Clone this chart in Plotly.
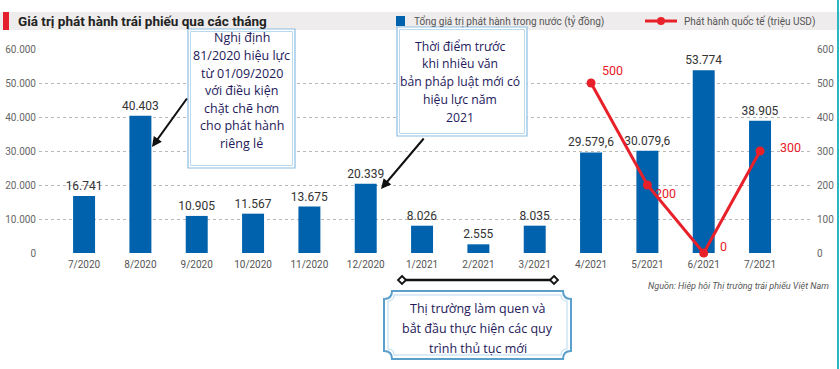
import plotly.graph_objects as go

# ---------------- data ----------------
months = ["7/2020", "8/2020", "9/2020", "10/2020", "11/2020", "12/2020",
          "1/2021", "2/2021", "3/2021", "4/2021", "5/2021", "6/2021", "7/2021"]
domestic = [16741, 40403, 10905, 11567, 13675, 20339,
            8026, 2555, 8035, 29579.6, 30079.6, 53774, 38905]
domestic_labels = ["16.741", "40.403", "10.905", "11.567", "13.675", "20.339",
                   "8.026", "2.555", "8.035", "29.579,6", "30.079,6", "53.774", "38.905"]
intl_months = ["4/2021", "5/2021", "6/2021", "7/2021"]
intl_values = [500, 200, 0, 300]
left_ticks = [0, 10000, 20000, 30000, 40000, 50000, 60000]
left_tick_text = ["0", "10.000", "20.000", "30.000", "40.000", "50.000", "60.000"]
right_ticks = [0, 100, 200, 300, 400, 500, 600]

# label offsets (pixels) for the red line labels
intl_label_shift = [(21, 13), (18, -8), (20, 7), (30, 4)]

W, H = 840, 369
PL, PR, PT, PB = 39, 813, 49, 253  # plot area in pixels


def px(x, y):
    return (x - PL) / (PR - PL), (PB - y) / (PB - PT)


BLUE = "#0062ad"
RED = "#e8202a"
TXT = "#24195a"

fig = go.Figure()
fig.add_trace(go.Bar(
    x=months, y=domestic, text=domestic_labels, textposition="outside",
    textfont=dict(family="Roboto", size=12, color="#333333"),
    constraintext="none",
    marker=dict(color=BLUE, line=dict(width=0)), width=0.39,
    cliponaxis=False, showlegend=False, hoverinfo="x+y",
))
fig.add_trace(go.Scatter(
    x=intl_months, y=intl_values, yaxis="y2", mode="lines+markers",
    line=dict(color=RED, width=3), marker=dict(color=RED, size=9),
    cliponaxis=False, showlegend=False,
))

grid = dict(showgrid=True, gridcolor="#b8b8b8", griddash="dot", gridwidth=1)
fig.update_layout(
    width=W, height=H,
    margin=dict(l=PL, r=W - PR, t=PT, b=H - PB, autoexpand=False),
    paper_bgcolor="white", plot_bgcolor="white",
    font=dict(family="Roboto", color="#555555"),
    xaxis=dict(type="category", range=[-0.8, 12.94], showgrid=False, automargin=False,
               tickfont=dict(family="Roboto", size=10, color="#555555"),
               ticks="", ticklabelstandoff=4, showline=False, zeroline=False),
    yaxis=dict(range=[0, 60000], tickvals=left_ticks, ticktext=left_tick_text, automargin=False,
               tickfont=dict(family="Roboto", size=10, color="#666666"),
               zeroline=False, showline=False, ticklabelstandoff=2, **grid),
    yaxis2=dict(range=[0, 600], tickvals=right_ticks, overlaying="y", side="right", automargin=False,
                tickfont=dict(family="Roboto", size=10, color="#666666"),
                showgrid=False, zeroline=False, showline=False, ticklabelstandoff=3),
)

shapes = []
annotations = []

# red line value labels
for m, v, (dx, dy) in zip(intl_months, intl_values, intl_label_shift):
    annotations.append(dict(x=m, y=v, xref="x", yref="y2", text=str(v), showarrow=False,
                            xshift=dx, yshift=dy, xanchor="center", yanchor="middle",
                            font=dict(family="Roboto", size=12.5, color=RED)))

# title band
bx0, by0 = px(0, 30)
bx1, by1 = px(840, 12)
shapes.append(dict(type="rect", xref="paper", yref="paper", x0=bx0, x1=bx1, y0=by0, y1=by1,
                   fillcolor="#eeecec", line=dict(width=0), layer="below"))
rx0, ry0 = px(3, 30)
rx1, ry1 = px(9, 12)
shapes.append(dict(type="rect", xref="paper", yref="paper", x0=rx0, x1=rx1, y0=ry0, y1=ry1,
                   fillcolor="#e3202b", line=dict(width=0)))
tx, ty = px(16, 21)
annotations.append(dict(xref="paper", yref="paper", x=tx, y=ty, xanchor="left", yanchor="middle",
                        text="<b>Giá trị phát hành trái phiếu qua các tháng</b>", showarrow=False,
                        font=dict(family="Roboto", size=13.5, color="#222222")))

# legend
lx0, ly0 = px(396, 26)
lx1, ly1 = px(405, 16)
shapes.append(dict(type="rect", xref="paper", yref="paper", x0=lx0, x1=lx1, y0=ly0, y1=ly1,
                   fillcolor=BLUE, line=dict(width=0)))
tx, ty = px(412, 21)
annotations.append(dict(xref="paper", yref="paper", x=tx, y=ty, xanchor="left", yanchor="middle",
                        text="Tổng giá trị phát hành trong nước (tỷ đồng)", showarrow=False,
                        font=dict(family="Roboto", size=10, color="#555555")))
la, lb = px(645, 21)
lc, ld = px(677, 21)
shapes.append(dict(type="line", xref="paper", yref="paper", x0=la, x1=lc, y0=lb, y1=ld,
                   line=dict(color=RED, width=3)))
ca, cb = px(657, 25)
cc, cd = px(665, 17)
shapes.append(dict(type="circle", xref="paper", yref="paper", x0=ca, x1=cc, y0=cb, y1=cd,
                   fillcolor=RED, line=dict(width=0)))
tx, ty = px(682, 21)
annotations.append(dict(xref="paper", yref="paper", x=tx, y=ty, xanchor="left", yanchor="middle",
                        text="Phát hành quốc tế (triệu USD)", showarrow=False,
                        font=dict(family="Roboto", size=10, color="#555555")))

# right teal border
ta, tb = px(838, 369)
tc, td = px(838, 0)
shapes.append(dict(type="line", xref="paper", yref="paper", x0=ta, x1=tc, y0=tb, y1=td,
                   line=dict(color="#2bb6c4", width=2)))


def double_box(xa, ya, xb, yb):
    for off, col, w in [(0, "#8dbfe2", 1.2), (2.5, "#b9d9ef", 1)]:
        p0 = px(xa + off, yb - off)
        p1 = px(xb - off, ya + off)
        shapes.append(dict(type="rect", xref="paper", yref="paper",
                           x0=p0[0], x1=p1[0], y0=p0[1], y1=p1[1],
                           fillcolor="white" if off == 0 else "rgba(0,0,0,0)",
                           line=dict(color=col, width=w)))


def text_lines(lines, xc, y_first, step, size):
    for i, t in enumerate(lines):
        cx, cy = px(xc, y_first + i * step)
        annotations.append(dict(xref="paper", yref="paper", x=cx, y=cy, xanchor="center",
                                yanchor="middle", text=t, showarrow=False,
                                font=dict(family="Open Sans", size=size, color=TXT)))


# box 1
double_box(188, 29, 295, 168)
text_lines(["Nghị định", "81/2020 hiệu lực", "từ 01/09/2020", "với điều kiện",
            "chặt chẽ hơn", "cho phát hành", "riêng lẻ"], 241.5, 38, 17.5, 12.5)
# box 2
double_box(397, 27, 527, 136)
text_lines(["Thời điểm trước", "khi nhiều văn", "bản pháp luật mới có",
            "hiệu lực năm", "2021"], 460, 46, 17.8, 12.2)

# arrows
for (hx, hy, sx, sy) in [(152, 147, 188, 97), (381, 189, 425, 137)]:
    ax_, ay_ = px(hx, hy)
    annotations.append(dict(xref="paper", yref="paper", x=ax_, y=ay_, ax=sx - hx, ay=sy - hy,
                            text="", showarrow=True, arrowhead=2, arrowsize=1, arrowwidth=2,
                            arrowcolor="#111111"))

# bracket line with diamond ends
ba, bb = px(402, 280)
bc, bd = px(554, 280)
shapes.append(dict(type="line", xref="paper", yref="paper", x0=ba, x1=bc, y0=bb, y1=bd,
                   line=dict(color="#111111", width=2.5)))
for dx in (402, 554):
    d = 4
    pts = [px(dx, 280 - d), px(dx + d, 280), px(dx, 280 + d), px(dx - d, 280)]
    path = "M " + " L ".join(f"{p[0]},{p[1]}" for p in pts) + " Z"
    shapes.append(dict(type="path", xref="paper", yref="paper", path=path,
                       fillcolor="white", line=dict(color="#111111", width=1.8)))


# scalloped box 3
def scallop(xa, ya, xb, yb, r):
    def P(x, y):
        p = px(x, y)
        return f"{p[0]},{p[1]}"
    s = "M " + P(xa + r, ya)
    s += " L " + P(xb - r, ya)
    s += " Q " + P(xb - r, ya + r) + " " + P(xb, ya + r)
    s += " L " + P(xb, yb - r)
    s += " Q " + P(xb - r, yb - r) + " " + P(xb - r, yb)
    s += " L " + P(xa + r, yb)
    s += " Q " + P(xa + r, yb - r) + " " + P(xa, yb - r)
    s += " L " + P(xa, ya + r)
    s += " Q " + P(xa + r, ya + r) + " " + P(xa + r, ya)
    s += " Z"
    return s


shapes.append(dict(type="path", xref="paper", yref="paper", path=scallop(384, 291, 571, 359, 8),
                   fillcolor="white", line=dict(color="#5b9fcc", width=2)))
shapes.append(dict(type="path", xref="paper", yref="paper", path=scallop(388, 295, 567, 355, 6),
                   fillcolor="rgba(0,0,0,0)", line=dict(color="#b9d9ef", width=1)))
text_lines(["Thị trường làm quen và", "bắt đầu thực hiện các quy", "trình thủ tục mới"],
           477.5, 308, 20, 12.5)

# source
sx_, sy_ = px(831, 286)
annotations.append(dict(xref="paper", yref="paper", x=sx_, y=sy_, xanchor="right", yanchor="middle",
                        text="<i>Nguồn: Hiệp hội Thị trường trái phiếu Việt Nam</i>", showarrow=False,
                        font=dict(family="Roboto", size=9, color="#555555")))

fig.update_layout(shapes=shapes, annotations=annotations)
fig.write_html("out.html", config={"displayModeBar": False},
               post_script="document.body.style.margin='0px';document.body.style.padding='0px';")
